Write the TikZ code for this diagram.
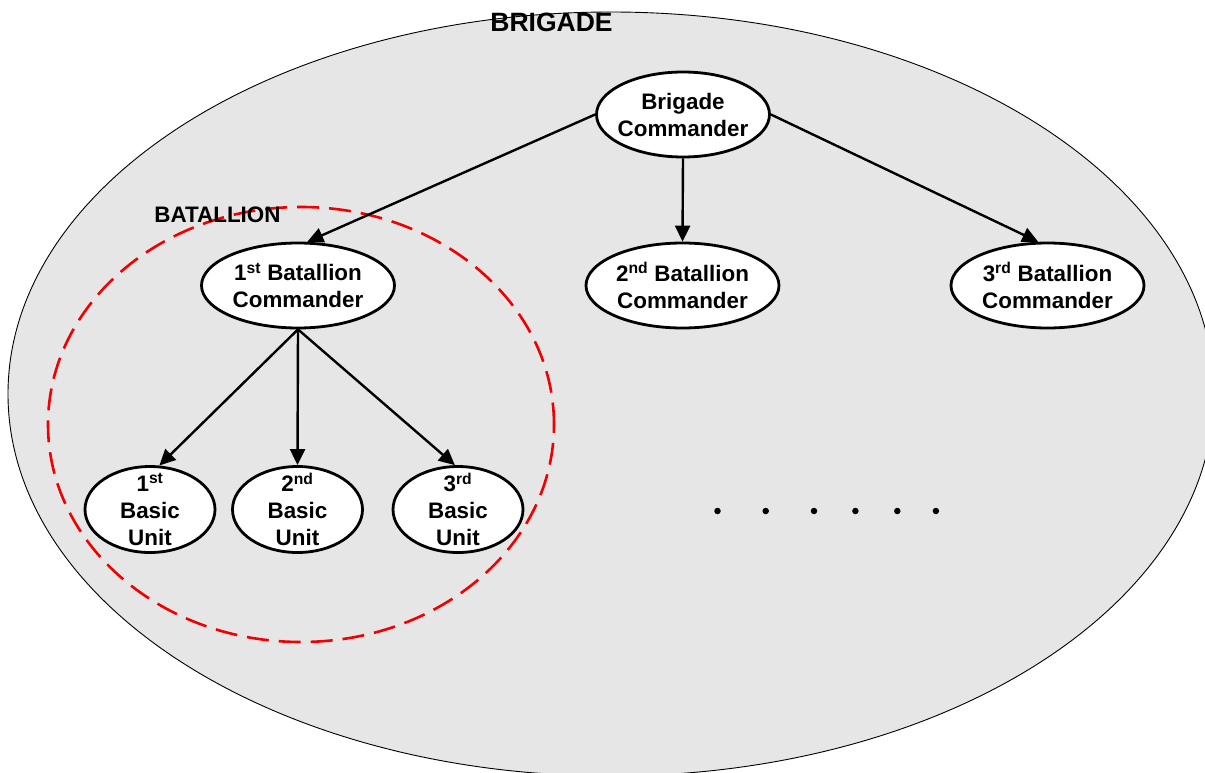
\documentclass[tikz,border=0pt]{standalone}
\usepackage{fontspec}
\setmainfont{Liberation Sans}
\usetikzlibrary{arrows.meta,shapes.geometric}
\definecolor{fieldgray}{RGB}{230,230,230}
\definecolor{batred}{RGB}{240,0,0}
\begin{document}
\begin{tikzpicture}[x=1pt,y=-1pt,
  txt/.style={font=\bfseries\fontsize{22.4}{27}\selectfont, align=center, inner sep=0pt},
  bigtxt/.style={font=\bfseries\fontsize{26.5}{30}\selectfont, inner sep=0pt},
  oval/.style={ellipse, draw=black, line width=2.8pt, fill=white, inner sep=0pt},
  cmdr/.style={oval, minimum width=193pt, minimum height=85pt},
  topcmdr/.style={oval, minimum width=173pt, minimum height=85pt},
  unitoval/.style={oval, minimum width=130pt, minimum height=86pt},
  link/.style={draw=black, line width=2.4pt, -{Triangle[length=16pt,width=15pt]}},
  dotmark/.style={circle, fill=black, inner sep=0pt, minimum size=6.5pt},
]
\useasboundingbox (0,0) rectangle (1205,773);

% brigade area
\begin{scope}
  \clip (0,0) rectangle (1205,773);
  \draw[line width=0.9pt, fill=fieldgray] (611,394) ellipse [x radius=603pt, y radius=382pt];
\end{scope}

% batallion area
\draw[batred, line width=2.6pt, dash pattern=on 22pt off 10pt]
  (301,424.5) ellipse [x radius=253pt, y radius=217.5pt];

\node[bigtxt] (brigade) at (551.5,22.5) {BRIGADE};
\node[txt] (batallion) at (217.5,215) {BATALLION};

% commanders
\node[topcmdr] (bc) at (683,114.5) {};
\node[txt] (bct) at (bc) {Brigade\\Commander};

\node[cmdr] (b1) at (298,285.5) {};
\node[txt] (b1t) at (b1) {1\textsuperscript{st} Batallion\\Commander};
\node[cmdr] (b2) at (682.5,285.5) {};
\node[txt] (b2t) at (b2) {2\textsuperscript{nd} Batallion\\Commander};
\node[cmdr] (b3) at (1047.5,285.5) {};
\node[txt] (b3t) at (b3) {3\textsuperscript{rd} Batallion\\Commander};

% basic units
\node[unitoval] (u1) at (150,509.5) {};
\node[txt] (u1t) at (u1) {1\textsuperscript{st}\\Basic\\Unit};
\node[unitoval] (u2) at (297.5,509.5) {};
\node[txt] (u2t) at (u2) {2\textsuperscript{nd}\\Basic\\Unit};
\node[unitoval] (u3) at (458,509.5) {};
\node[txt] (u3t) at (u3) {3\textsuperscript{rd}\\Basic\\Unit};

% chain of command
\draw[link] (bc.west) -- (b1.78);
\draw[link] (bc.south) -- (b2.north);
\draw[link] (bc.east) -- (b3.102);
\draw[link] (b1.south) -- (u1.78);
\draw[link] (b1.south) -- (u2.north);
\draw[link] (b1.south) -- (u3.94);

% further batallions
\foreach \x [count=\i] in {717.5,765.7,814,855.4,897.3,935.9}
  \node[dotmark] (dot\i) at (\x,511) {};
\end{tikzpicture}
\end{document}
